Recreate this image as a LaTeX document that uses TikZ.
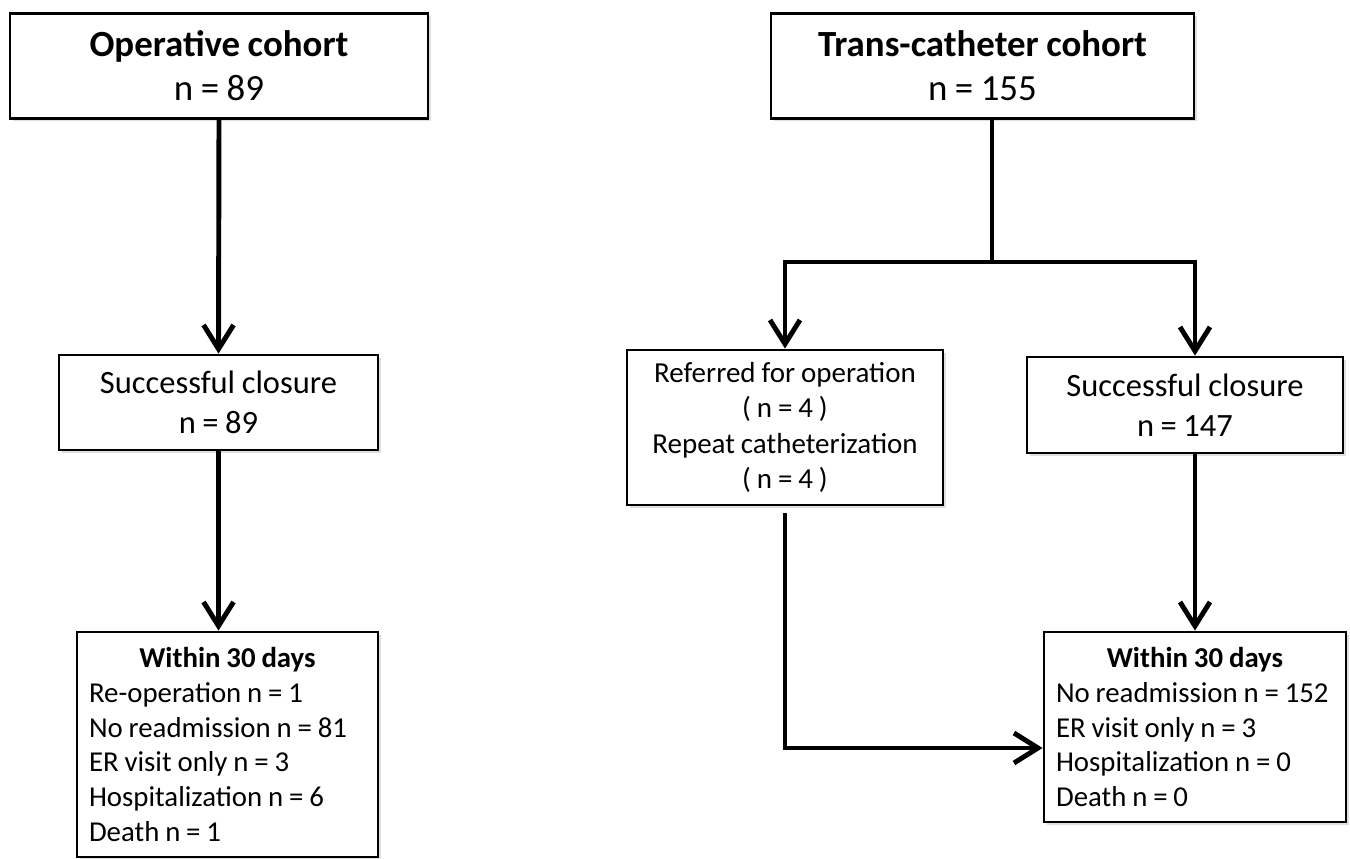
\documentclass[tikz,border=0pt]{standalone}
\usepackage{fontspec}
\setmainfont{Carlito}[WordSpace=0.9]
\usetikzlibrary{arrows.meta, shadows}

\begin{document}
\begin{tikzpicture}[
    x=0.02cm, y=-0.02cm,
    box/.style     = {rectangle, draw=black, line width=1.6pt, fill=white, align=center, inner sep=0pt,
                      drop shadow={shadow xshift=1.5pt, shadow yshift=-1.5pt, opacity=0.25}},
    cohort/.style  = {box, font=\fontsize{21}{25}\selectfont, minimum height=2.1cm},
    stage/.style   = {box, font=\fontsize{18.5}{22.8}\selectfont, minimum height=1.9cm, minimum width=6.32cm},
    outcome/.style = {box, font=\fontsize{16.4}{19.7}\selectfont, align=flush left, inner xsep=0.24cm,
                      execute at begin node={\spaceskip 0pt \xspaceskip 0pt \relax}},
    arr/.style     = {-{Straight Barb[length=0.48cm, width=0.6cm]}, line width=2.8pt},
]

\useasboundingbox (0,0) rectangle (1350,859);

%% ---- Operative side ----

\node[cohort, minimum width=8.36cm] (op) at (219, 66)
    {\textbf{Operative cohort}\\n = 89};
\node[stage, minimum width=6.38cm] (opok) at (218.5, 402.5)
    {Successful closure\\n = 89};
\node[outcome, text width=5.54cm, minimum height=4.5cm] (opres) at (227.5, 744.5)
    {\centerline{\bfseries Within 30 days}
     Re-operation n = 1\\
     No readmission n = 81\\
     ER visit only n = 3\\
     Hospitalization n = 6\\
     Death n = 1};

%% ---- Trans-catheter side ----

\node[cohort, minimum width=8.46cm] (tc) at (982.5, 66)
    {\textbf{Trans-catheter cohort}\\n = 155};
\node[stage, font=\fontsize{16.5}{20}\selectfont, minimum height=3.1cm] (ref) at (785, 427.5)
    {Referred for operation\\( n = 4 )\\Repeat catheterization\\( n = 4 )};
\node[stage, minimum height=1.92cm] (tcok) at (1185, 405)
    {Successful closure\\n = 147};
\node[outcome, text width=5.56cm, minimum height=3.8cm] (tcres) at (1195, 727)
    {\centerline{\bfseries Within 30 days}
     No readmission n = 152\\
     ER visit only n = 3\\
     Hospitalization n = 0\\
     Death n = 0};

%% ---- Connectors ----

\coordinate (split) at (992, 262);

\draw[arr] (op.south) -- (opok.north);
\draw[arr] (opok.south) -- (opok.south |- opres.north);

\draw[line width=2.8pt] (tc.south -| split) -- (split);
\draw[arr] (split) -| (ref.north);
\draw[arr] (split) -| (tcres.north |- tcok.north);
\draw[arr] (tcok.south -| tcres.north) -- (tcres.north);
\draw[arr, shorten <=0.14cm] (ref.south) |- ([yshift=-0.42cm]tcres.west);

\end{tikzpicture}
\end{document}
